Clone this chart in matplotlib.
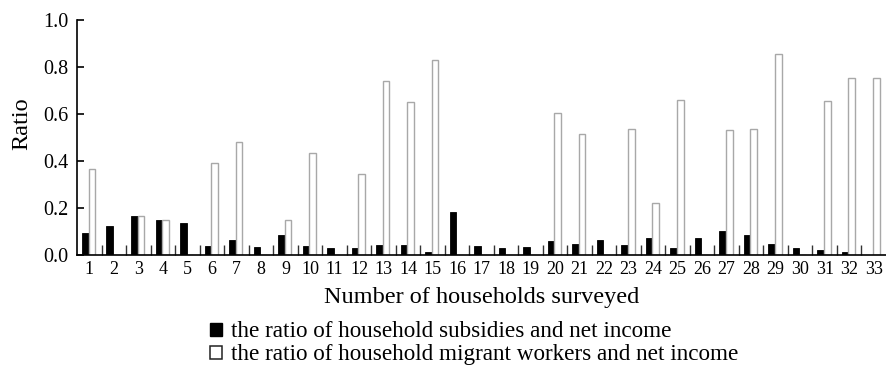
import numpy as np
import matplotlib
matplotlib.use("Agg")
import matplotlib.pyplot as plt
from matplotlib.patches import Patch

plt.rcParams['font.family'] = ['Liberation Serif', 'DejaVu Serif']

households = list(range(1, 34))
subsidy_ratio = [0.095, 0.125, 0.165, 0.149, 0.138, 0.040, 0.064, 0.033, 0.085, 0.040,
                 0.031, 0.031, 0.044, 0.041, 0.014, 0.183, 0.040, 0.031, 0.033, 0.058,
                 0.045, 0.064, 0.044, 0.072, 0.028, 0.072, 0.104, 0.087, 0.047, 0.031,
                 0.020, 0.014, 0.0]
migrant_ratio = [0.365, 0.0, 0.165, 0.149, 0.0, 0.390, 0.482, 0.0, 0.149, 0.434,
                 0.0, 0.346, 0.743, 0.652, 0.830, 0.0, 0.0, 0.0, 0.0, 0.604,
                 0.516, 0.0, 0.536, 0.223, 0.660, 0.0, 0.532, 0.536, 0.857, 0.0,
                 0.657, 0.755, 0.755]
legend_labels = ["the ratio of household subsidies and net income",
                 "the ratio of household migrant workers and net income"]

fig = plt.figure(figsize=(8.86, 3.67), dpi=100)
ax = fig.add_axes([0.087, 0.305, 0.913, 0.64])

x = np.array(households)
w = 0.27
ax.bar(x - w / 2 - 0.03, subsidy_ratio, width=w, color='black', edgecolor='black', linewidth=0.6)
ax.bar(x + w / 2 - 0.03, migrant_ratio, width=w, color='white', edgecolor='#a8a8a8', linewidth=1.0)

ax.set_xlim(0.5, 33.5)
ax.set_ylim(0, 1.0)
ax.set_xticks(x)
ax.set_xticklabels([str(h) for h in households])
ax.set_xticks(np.arange(1.5, 33, 1), minor=True)
ax.set_yticks(np.arange(0, 1.01, 0.2))
ax.set_yticklabels(["%.1f" % v for v in np.arange(0, 1.01, 0.2)])

ax.tick_params(axis='x', which='major', length=0, pad=4, labelsize=13)
ax.tick_params(axis='x', which='minor', direction='in', length=7, width=1.0, color='#333333')
ax.tick_params(axis='y', direction='in', length=5, width=1.2, labelsize=14.5, pad=6)

for s in ['top', 'right']:
    ax.spines[s].set_visible(False)
ax.spines['left'].set_linewidth(1.2)
ax.spines['bottom'].set_linewidth(1.2)

ax.set_ylabel("Ratio", fontsize=17.5)
ax.yaxis.set_label_coords(-0.056, 0.56)
ax.set_xlabel("Number of households surveyed", fontsize=17.5, labelpad=6.5)

handles = [Patch(facecolor='black', edgecolor='black'),
           Patch(facecolor='white', edgecolor='#222222', linewidth=1.1)]
fig.legend(handles, legend_labels, loc='upper left', bbox_to_anchor=(0.237, 0.124),
           frameon=False, fontsize=16.7, handlelength=0.5, handleheight=0.5,
           handletextpad=0.4, labelspacing=0.08, borderpad=0, borderaxespad=0)

fig.savefig("out.png", dpi=100)
